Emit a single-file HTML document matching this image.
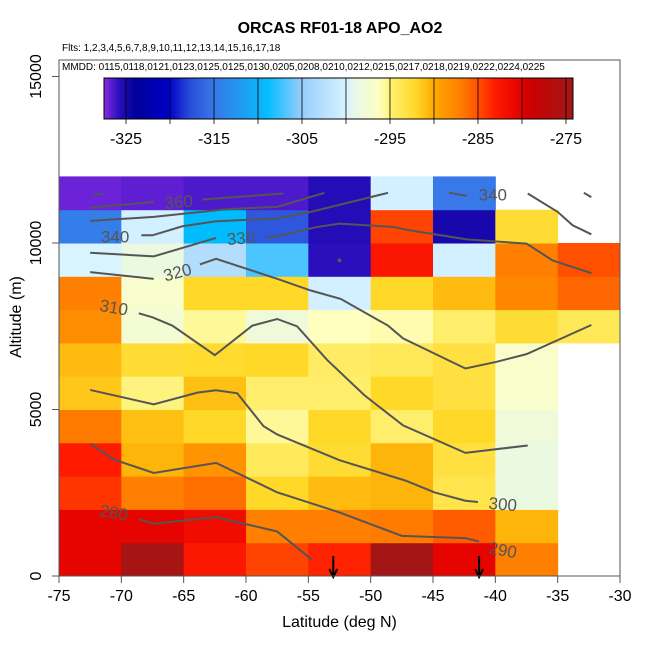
<!DOCTYPE html>
<html><head><meta charset="utf-8"><style>
body{margin:0;background:#fff;}
svg{display:block;font-family:"Liberation Sans",sans-serif;}
</style></head><body>
<svg id="chart" width="650" height="650" xmlns="http://www.w3.org/2000/svg"></svg>
<script>
// ---- data ----
const latEdges = [-75,-70,-65,-60,-55,-50,-45,-40,-35,-30];
const altEdges = [0,1000,2000,3000,4000,5000,6000,7000,8000,9000,10000,11000,12000];
// APO values per altitude row (bottom row first), per latitude bin; null = no data
const row0  = [-280.5,-275,-282.7,-284.5,-283.3,-274.6,-280.5,-287,null];
const row1  = [-280.5,-280.5,-281.5,-287,-287,-286.8,-285.5,-290.5,null];
const row2  = [-284,-287,-286.3,-292,-290.8,-290.5,-293.5,-298.5,null];
const row3  = [-283,-290.5,-288.5,-294.2,-292.5,-290.5,-293,-298.5,null];
const row4  = [-286.8,-291,-292,-295.5,-292,-294.8,-292,-298,null];
const row5  = [-291.3,-295.2,-291,-294.8,-294.8,-292,-293,-296.8,null];
const row6  = [-290.8,-292.5,-292.3,-292,-294.5,-294,-293,-296.8,null];
const row7  = [-288,-297.5,-295.5,-298,-296,-295.8,-294.8,-292.5,-294];
const row8  = [-287,-297,-292,-292,-300.5,-292,-290.8,-287.5,-286];
const row9  = [-300,-298.5,-303,-307,-325.8,-282.5,-300.5,-287,-285];
const row10 = [-314.5,-300.5,-309,-317,-325.5,-284.5,-325,-292.5,null];
const row11 = [-327,-326.8,-326.5,-326.5,-325.5,-300.5,-315,null,null];
const rows = [row0,row1,row2,row3,row4,row5,row6,row7,row8,row9,row10,row11];
const xTicks = [-75,-70,-65,-60,-55,-50,-45,-40,-35,-30];
const yTicks = [0,5000,10000,15000];
const cbTicks = [-325,-315,-305,-295,-285,-275];
const cbDivs = [-325,-320,-315,-310,-305,-300,-295,-290,-285,-280,-275];
// contour polylines [lat, alt]
const contours = [
 [[-72.2,11445],[-71.5,11485]],
 [[-72.5,11055],[-67.4,11236]],
 [[-63.5,11306],[-57.0,11487]],
 [[-72.5,10663],[-67.4,10784],[-61.6,11015],[-57.5,11085],[-53.7,11507]],
 [[-68.4,10231],[-67.5,10231],[-65.1,10502],[-62.4,10653],[-57.5,10733],[-54.8,10934],[-48.6,11507]],
 [[-43.7,11507],[-42.3,11417]],
 [[-72.5,9708],[-67.4,9598],[-62.4,10151]],
 [[-58.4,10181],[-57.5,10201],[-54.3,10482],[-52.5,10583],[-48.1,10482],[-47.2,10402],[-42.3,10110],[-37.5,9980],[-35.4,9477],[-32.3,9095]],
 [[-37.4,11487],[-35.0,10934],[-33.8,10532],[-32.3,10261]],
 [[-32.9,11507],[-32.3,11377]],
 [[-72.5,9125],[-67.4,8924]],
 [[-63.7,9357],[-62.4,9527],[-57.5,8924],[-54.8,8573],[-52.4,8321],[-48.6,7517],[-47.4,7136],[-42.4,6231],[-39.9,6432],[-37.5,6663],[-32.3,7537]],
 [[-68.6,7889],[-67.5,7769],[-65.9,7517],[-62.5,6633],[-59.5,7517],[-57.5,7718],[-55.9,7497],[-53.5,6492],[-50.5,5427],[-47.4,4523],[-42.4,3698],[-37.4,3920]],
 [[-72.5,5588],[-67.4,5156],[-63.9,5507],[-62.4,5578],[-60.7,5487],[-58.6,4502],[-57.5,4251],[-52.5,3477],[-47.2,2864],[-44.9,2513],[-42.4,2261],[-41.4,2221]],
 [[-72.5,3980],[-70.6,3497],[-67.4,3095],[-62.4,3397],[-57.5,2513],[-52.5,1910],[-47.5,1206],[-42.4,1136],[-41.3,1035]],
 [[-68.6,1709],[-67.4,1568],[-62.4,1769],[-57.5,1337],[-54.7,482]]
];
const contourLabels = ["360","340","330","320","310","340","300","290","280"];
const labelLat = [-65.4,-70.5,-60.4,-65.5,-70.6,-40.2,-39.4,-39.4,-70.6];
const labelAlt = [11235,10201,10151,9125,8070,11457,2161,784,1910];
const labelRot = [-5,0,-5,-15,10,0,5,10,10];
const arrowLats = [-53,-41.3];

// ---- scales ----
const X0=59,X1=620,Y0=576,Ytop=60;
const xs = v => X0 + (v+75)/45*(X1-X0);
const ys = v => Y0 - v/15000*(Y0-76.5);
const CB0=104,CB1=573,cbMin=-327.5,cbMax=-274.2;
const cbx = v => CB0 + (v-cbMin)/(cbMax-cbMin)*(CB1-CB0);
const stops = [[-327.5,"#8a2be2"],[-326,"#3010c0"],[-324,"#000098"],[-320,"#0000c8"],[-318,"#2848d8"],[-315,"#3878e8"],[-310,"#10b0f8"],[-309,"#00bcff"],[-305,"#98cdfc"],[-300,"#d8f4ff"],[-299,"#e8f8e8"],[-296,"#ffffc0"],[-295,"#fff070"],[-292,"#ffd828"],[-290,"#ffa800"],[-287,"#ff8000"],[-285,"#ff5000"],[-283,"#ff1a00"],[-280,"#e00000"],[-279,"#cc0000"],[-276,"#b01010"],[-274.2,"#a01818"]];
function hex(c){return [1,3,5].map(i=>parseInt(c.substr(i,2),16));}
function color(v){
  if(v<=stops[0][0])return stops[0][1];
  for(let i=1;i<stops.length;i++){
    if(v<=stops[i][0]){const a=stops[i-1],b=stops[i];const t=(v-a[0])/(b[0]-a[0]);
      const ca=hex(a[1]),cb=hex(b[1]);return "rgb("+ca.map((x,k)=>Math.round(x+(cb[k]-x)*t)).join(",")+")";}
  }
  return stops[stops.length-1][1];
}
const svg=document.getElementById('chart');
const NS="http://www.w3.org/2000/svg";
function mk(tag,attrs,parent){const e=document.createElementNS(NS,tag);for(const k in attrs)e.setAttribute(k,attrs[k]);(parent||svg).appendChild(e);return e;}

// cells
const gCells=mk('g',{});


rows.forEach((r,ri)=>{r.forEach((v,ci)=>{
  if(v===null)return;
  const x=xs(latEdges[ci]),x2=xs(latEdges[ci+1]),y=ys(altEdges[ri+1]),y2=ys(altEdges[ri]);
  const c=mk('rect',{x:x,y:y,width:x2-x+0.5,height:y2-y+0.5,fill:color(v)},gCells);
  
  
});});

// contours
const gC=mk('g',{fill:'none',stroke:'#555','stroke-width':2});


contours.forEach(pts=>{
  const p=mk('polyline',{points:pts.map(q=>xs(q[0])+","+ys(q[1])).join(" ")},gC);
  
  
});
const dot=mk('circle',{cx:xs(-52.5),cy:ys(9477),r:2,fill:'#555'});


contourLabels.forEach((t,i)=>{
  const x=xs(labelLat[i]),y=ys(labelAlt[i]);
  const e=mk('text',{x:x,y:y+6,'text-anchor':'middle','font-size':17,fill:'#555',transform:`rotate(${labelRot[i]} ${x} ${y})`});
  e.textContent=t;
  
  
});

// arrows
arrowLats.forEach(a=>{
  const x=xs(a);
  const g=mk('g',{stroke:'#000','stroke-width':2,fill:'none'});
  
  
  mk('line',{x1:x,y1:556,x2:x,y2:577},g);
  mk('polyline',{points:`${x-4},${569} ${x},${577} ${x+4},${569}`},g);
});

// box + axes
const box=mk('rect',{x:X0,y:Ytop,width:X1-X0,height:Y0-Ytop,fill:'none',stroke:'#555','stroke-width':1});


xTicks.forEach(t=>{
  const x=xs(t);
  mk('line',{x1:x,y1:Y0,x2:x,y2:583,stroke:'#555'});
  const e=mk('text',{x:x,y:601,'text-anchor':'middle','font-size':16,fill:'#000'});
  e.textContent=t;
  
  
});
yTicks.forEach(t=>{
  const y=ys(t);
  mk('line',{x1:X0,y1:y,x2:52,y2:y,stroke:'#555'});
  const e=mk('text',{x:41,y:y,'text-anchor':'middle','font-size':16,fill:'#000',transform:`rotate(-90 41 ${y})`});
  e.textContent=t;
  
  
});

// colorbar
const defs=mk('defs',{});
const grad=mk('linearGradient',{id:'cbg',x1:0,x2:1,y1:0,y2:0},defs);
for(let i=0;i<=60;i++){const v=cbMin+(cbMax-cbMin)*i/60;mk('stop',{offset:(i/60),'stop-color':color(v)},grad);}
const cb=mk('rect',{x:CB0,y:78,width:CB1-CB0,height:41,fill:'url(#cbg)',stroke:'#000','stroke-width':1});


cbDivs.forEach(v=>{const x=cbx(v);mk('line',{x1:x,y1:78,x2:x,y2:124,stroke:'#000','stroke-width':0.8});});
cbTicks.forEach(v=>{
  const e=mk('text',{x:cbx(v),y:144,'text-anchor':'middle','font-size':16,fill:'#000'});
  e.textContent=v;
  
  
});
</script>
<svg width="0" height="0"></svg>
<div style="position:absolute;left:0;top:0;width:650px;height:650px;pointer-events:none;font-family:'Liberation Sans',sans-serif;">
  <div style="position:absolute;left:0;width:650px;top:20px;text-align:center;font-weight:bold;font-size:16px;padding-left:30px;box-sizing:border-box;">ORCAS RF01-18 APO_AO2</div>
  <div style="position:absolute;left:62px;top:43px;font-size:10px;">Flts: 1,2,3,4,5,6,7,8,9,10,11,12,13,14,15,16,17,18</div>
  <div style="position:absolute;left:62px;top:62px;font-size:10px;">MMDD: 0115,0118,0121,0123,0125,0125,0130,0205,0208,0210,0212,0215,0217,0218,0219,0222,0224,0225</div>
  <div style="position:absolute;left:59px;width:561px;top:614px;text-align:center;font-size:16px;">Latitude (deg N)</div>
  <div style="position:absolute;left:-43px;top:308px;width:120px;text-align:center;font-size:16px;transform:rotate(-90deg);">Altitude (m)</div>
</div>
</body></html>
